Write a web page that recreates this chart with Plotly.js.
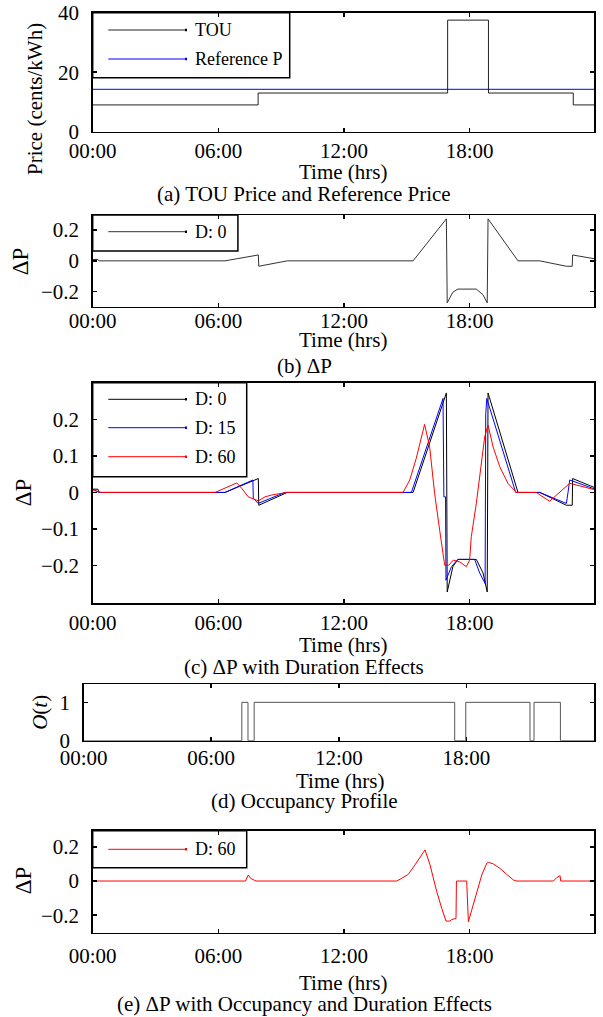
<!DOCTYPE html>
<html>
<head>
<meta charset="utf-8">
<script src="https://cdn.plot.ly/plotly-3.0.1.min.js"></script>
<style>
html,body{margin:0;padding:0;background:#fff;}
#chart{width:603px;height:1017px;}
</style>
</head>
<body>
<div id="chart"></div>
<script>
// ---------------- DATA ----------------
const tickHours = [0, 6, 12, 18];
const tickLabels = ['00:00', '06:00', '12:00', '18:00'];

// (a) TOU price and reference price (cents/kWh)
const touHours = [0, 7.9, 16.95, 18.9, 22.95, 24];
const touPrice = [9, 13, 37.5, 13, 9, 9];
const refHours = [0, 24];
const refPrice = [14.25, 14.25];

// (b)/(c) Delta P, D: 0
const d0Hours = [0, 0.25, 0.3, 6.32, 6.9, 7.3, 7.91, 7.93, 8.6, 9.29, 15.3, 16.89, 16.93, 17.2, 17.44, 18.32, 18.64, 18.84, 18.88, 20.31, 21.35, 22.62, 22.9, 22.92, 23.94];
const d0Value = [0.009, 0.009, 0, 0, 0.014, 0.024, 0.038, -0.035, -0.018, 0, 0, 0.272, -0.272, -0.203, -0.183, -0.183, -0.22, -0.272, 0.272, 0, 0, -0.035, -0.035, 0.038, 0.014];

// (c) Delta P, D: 15
const d15Hours = [0, 0.3, 6.32, 7.65, 7.67, 7.83, 7.9, 9.18, 15.22, 16.73, 16.77, 16.85, 16.87, 17.13, 17.37, 17.44, 18.24, 18.48, 18.74, 18.77, 18.82, 20.2, 21.35, 22.62, 22.7, 22.78, 23.94];
const d15Value = [0.009, 0, 0, 0.034, -0.016, -0.026, -0.03, 0, 0, 0.257, -0.012, -0.012, -0.24, -0.203, -0.186, -0.183, -0.183, -0.22, -0.249, 0.215, 0.257, 0, 0, -0.03, 0.0, 0.034, 0.01];

// (c) Delta P, D: 60
const d60Hours = [0, 0.4, 5.84, 6.32, 6.64, 6.88, 7.12, 7.43, 7.91, 8.23, 8.55, 8.94, 9.26, 14.82, 15.14, 15.45, 15.69, 15.85, 16.09, 16.33, 16.57, 16.81, 17.0, 17.22, 17.54, 17.84, 18.0, 18.08, 18.32, 18.56, 18.72, 18.88, 19.12, 19.44, 19.83, 20.23, 21.18, 21.82, 22.78, 23.94];
const d60Value = [0.007, 0, 0, 0.011, 0.02, 0.026, 0.011, -0.012, -0.023, -0.012, -0.007, -0.003, 0, 0, 0.034, 0.093, 0.152, 0.186, 0.125, -0.003, -0.103, -0.199, -0.199, -0.185, -0.19, -0.203, -0.185, -0.121, -0.03, 0.079, 0.152, 0.184, 0.125, 0.07, 0.025, 0, 0, -0.024, 0.025, 0.008];

// (d) Occupancy profile
const occHours = [0, 7.44, 7.73, 8.02, 17.45, 17.97, 20.99, 21.18, 22.42, 24];
const occValue = [0, 1, 0, 1, 0, 1, 0, 1, 0, 0];

// (e) Delta P with occupancy and duration, D: 60
const occD60Hours = [0, 7.3, 7.43, 7.55, 7.8, 14.52, 14.76, 15.07, 15.39, 15.71, 15.87, 16.11, 16.43, 16.67, 16.87, 17.06, 17.14, 17.35, 17.37, 17.86, 17.94, 18.1, 18.34, 18.58, 18.82, 18.9, 19.13, 19.45, 19.77, 20.09, 20.25, 22.0, 22.16, 22.32, 22.35, 23.94];
const occD60Value = [0, 0, 0.035, 0.015, 0, 0, 0.016, 0.039, 0.094, 0.152, 0.182, 0.094, -0.062, -0.16, -0.234, -0.234, -0.225, -0.219, 0, 0, -0.238, -0.17, -0.072, 0.035, 0.104, 0.109, 0.1, 0.074, 0.039, 0.006, 0, 0, 0.02, 0.031, 0, 0];

// ---------------- LAYOUT HELPERS ----------------
const W = 603, H = 1017;
const fx = p => p / W;
const fy = p => 1 - p / H;
const FONT = 'Liberation Serif, Times New Roman, serif';
const BLACK = '#000';
const DARK = '#222';
const BLUE = '#0000ff';
const RED = '#ff0000';
const TICK_SIZE = 21;
const TITLE_SIZE = 21;

const panels = {
  a: {l: 92.7, r: 594, t: 12.7, b: 131.7},
  b: {l: 92.7, r: 594, t: 215, b: 306.7},
  c: {l: 92.7, r: 594, t: 382.7, b: 603.3},
  d: {l: 83.6, r: 594, t: 684.3, b: 740.7},
  e: {l: 92.7, r: 594, t: 830.7, b: 932.7}
};

function xAxis(p, anchor, range, standoff) {
  return {
    domain: [fx(p.l), fx(p.r)], anchor: anchor, range: range,
    tickvals: tickHours, ticktext: tickLabels,
    showline: true, linecolor: BLACK, linewidth: 1.5, mirror: 'ticks',
    ticks: 'inside', ticklen: 4, tickwidth: 1.5, tickcolor: BLACK,
    showgrid: false, zeroline: false, ticklabelstandoff: standoff,
    tickfont: {family: FONT, size: TICK_SIZE, color: BLACK}
  };
}
function yAxis(p, anchor, range, vals) {
  return {
    domain: [fy(p.b), fy(p.t)], anchor: anchor, range: range,
    tickvals: vals,
    showline: true, linecolor: BLACK, linewidth: 1.5, mirror: 'ticks',
    ticks: 'inside', ticklen: 4, tickwidth: 1.5, tickcolor: BLACK,
    showgrid: false, zeroline: false, ticklabelstandoff: 8,
    tickfont: {family: FONT, size: TICK_SIZE, color: BLACK}
  };
}

function line(x, y, xa, ya, color, name, shape) {
  return {x: x, y: y, xaxis: xa, yaxis: ya, type: 'scatter', mode: 'lines',
          name: name, line: {color: color, width: 1, shape: shape || 'linear'},
          showlegend: false, hoverinfo: 'skip'};
}

const traces = [
  line(touHours, touPrice, 'x', 'y', DARK, 'TOU', 'hv'),
  line(refHours, refPrice, 'x', 'y', BLUE, 'Reference P'),
  line(d0Hours, d0Value, 'x2', 'y2', '#333', 'D: 0'),
  line(d0Hours, d0Value, 'x3', 'y3', BLACK, 'D: 0'),
  line(d15Hours, d15Value, 'x3', 'y3', BLUE, 'D: 15'),
  line(d60Hours, d60Value, 'x3', 'y3', RED, 'D: 60'),
  line(occHours, occValue, 'x4', 'y4', '#555', 'O(t)', 'hv'),
  line(occD60Hours, occD60Value, 'x5', 'y5', RED, 'D: 60')
];

const annotations = [];
const shapes = [];

function txt(text, x, y, size, opts) {
  annotations.push(Object.assign({
    text: text, x: fx(x), y: fy(y), xref: 'paper', yref: 'paper',
    showarrow: false, xanchor: 'center', yanchor: 'middle', borderpad: 0,
    font: {family: FONT, size: size, color: BLACK}
  }, opts || {}));
}

// axis titles and captions
const xTitleX = 343;
const captionX = 304;
txt('Price (cents/kWh)', 35, 99, TITLE_SIZE, {textangle: -90});
txt('Time (hrs)', xTitleX, 172, TITLE_SIZE);
txt('(a) TOU Price and Reference Price', captionX, 194, TITLE_SIZE);

txt('ΔP', 21.3, 261, 23, {textangle: -90});
txt('Time (hrs)', xTitleX, 340, TITLE_SIZE);
txt('(b) ΔP', captionX, 366, TITLE_SIZE);

txt('ΔP', 24.3, 492, 23, {textangle: -90});
txt('Time (hrs)', xTitleX, 645, TITLE_SIZE);
txt('(c) ΔP with Duration Effects', captionX, 667, TITLE_SIZE);

txt('<i>O</i>(<i>t</i>)', 39.8, 712, 21, {textangle: -90});
txt('Time (hrs)', 340, 781, TITLE_SIZE);
txt('(d) Occupancy Profile', captionX, 801, TITLE_SIZE);

txt('ΔP', 23.2, 880, 23, {textangle: -90});
txt('Time (hrs)', xTitleX, 983, TITLE_SIZE);
txt('(e) ΔP with Occupancy and Duration Effects', captionX, 1016.5, TITLE_SIZE, {yanchor: 'bottom'});

// legends (box, sample line, label)
function legendBox(p, right, bottom, items) {
  shapes.push({type: 'rect', xref: 'paper', yref: 'paper',
    x0: fx(p.l), x1: fx(right), y0: fy(bottom), y1: fy(p.t),
    line: {color: BLACK, width: 1.5}, fillcolor: 'rgba(255,255,255,1)', layer: 'below'});
  items.forEach(it => {
    shapes.push({type: 'line', xref: 'paper', yref: 'paper',
      x0: fx(108.3), x1: fx(185), y0: fy(it.y), y1: fy(it.y),
      line: {color: it.color, width: 1}});
    shapes.push({type: 'line', xref: 'paper', yref: 'paper',
      x0: fx(185), x1: fx(187), y0: fy(it.y), y1: fy(it.y),
      line: {color: it.color === RED ? RED : (it.color === BLUE ? BLUE : BLACK), width: 2.5}});
    txt(it.label, 194, it.y, 18, {xanchor: 'left'});
  });
}
legendBox(panels.a, 289.7, 77.7, [
  {y: 30, color: DARK, label: 'TOU'},
  {y: 59, color: BLUE, label: 'Reference P'}
]);
legendBox(panels.b, 237.9, 251, [
  {y: 231.7, color: '#333', label: 'D: 0'}
]);
legendBox(panels.c, 246.7, 476.7, [
  {y: 399.3, color: BLACK, label: 'D: 0'},
  {y: 427.7, color: BLUE, label: 'D: 15'},
  {y: 456.7, color: RED, label: 'D: 60'}
]);
legendBox(panels.e, 246.7, 867.7, [
  {y: 849.3, color: RED, label: 'D: 60'}
]);

const layout = {
  width: W, height: H,
  margin: {l: 0, r: 0, t: 0, b: 0},
  paper_bgcolor: '#fff', plot_bgcolor: 'rgba(0,0,0,0)',
  showlegend: false,
  font: {family: FONT, color: BLACK},
  xaxis: xAxis(panels.a, 'y', [0, 23.94], 0),
  yaxis: yAxis(panels.a, 'x', [0, 40], [0, 20, 40]),
  xaxis2: xAxis(panels.b, 'y2', [0, 23.94], -5),
  yaxis2: yAxis(panels.b, 'x2', [-0.297, 0.297], [-0.2, 0, 0.2]),
  xaxis3: xAxis(panels.c, 'y3', [0, 23.94], 0),
  yaxis3: yAxis(panels.c, 'x3', [-0.303, 0.3], [-0.2, -0.1, 0, 0.1, 0.2]),
  xaxis4: xAxis(panels.d, 'y4', [0, 24], -2),
  yaxis4: yAxis(panels.d, 'x4', [0, 1.47], [0, 1]),
  xaxis5: xAxis(panels.e, 'y5', [0, 23.94], 4),
  yaxis5: yAxis(panels.e, 'x5', [-0.302, 0.294], [-0.2, 0, 0.2]),
  annotations: annotations,
  shapes: shapes
};

Plotly.newPlot('chart', traces, layout, {staticPlot: true, displayModeBar: false});
</script>
</body>
</html>
